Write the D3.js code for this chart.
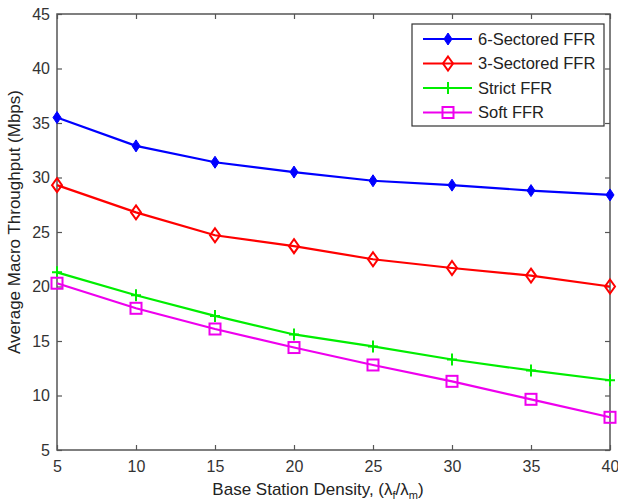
<!DOCTYPE html>
<html><head><meta charset="utf-8">
<script src="https://cdn.jsdelivr.net/npm/d3@7"></script>
<style>body{margin:0;background:#fff}svg{display:block}</style>
</head><body>
<svg id="c" width="618" height="502"></svg>
<script>
const density = [5, 10, 15, 20, 25, 30, 35, 40];
const sectored6 = [35.5, 32.9, 31.4, 30.5, 29.7, 29.3, 28.8, 28.4];
const sectored3 = [29.3, 26.8, 24.7, 23.7, 22.5, 21.7, 21.0, 20.0];
const strictFFR = [21.3, 19.2, 17.3, 15.6, 14.5, 13.3, 12.3, 11.4];
const softFFR = [20.3, 18.0, 16.1, 14.4, 12.8, 11.3, 9.65, 8.0];
const xTicks = [5, 10, 15, 20, 25, 30, 35, 40];
const yTicks = [5, 10, 15, 20, 25, 30, 35, 40, 45];
const seriesNames = ["6-Sectored FFR", "3-Sectored FFR", "Strict FFR", "Soft FFR"];

const series = [
  {name: seriesNames[0], values: sectored6, color: "#0000ff", marker: "fdiamond"},
  {name: seriesNames[1], values: sectored3, color: "#ff0000", marker: "odiamond"},
  {name: seriesNames[2], values: strictFFR, color: "#00ee00", marker: "plus"},
  {name: seriesNames[3], values: softFFR, color: "#ee00ee", marker: "square"}
];

const L = 57, R = 610, T = 14, B = 450;
const svg = d3.select("#c");
const x = d3.scaleLinear().domain([5, 40]).range([L, R]);
const y = d3.scaleLinear().domain([5, 45]).range([B, T]);
const font = "'Liberation Sans', Arial, sans-serif";
const axisColor = "#555";

svg.append("rect").attr("x", L).attr("y", T).attr("width", R - L).attr("height", B - T)
  .attr("fill", "none").attr("stroke", axisColor).attr("stroke-width", 1.5);

const xb = svg.append("g").attr("transform", `translate(0,${B})`)
  .call(d3.axisBottom(x).tickValues(xTicks).tickSizeInner(-5).tickSizeOuter(0).tickPadding(8));
const yl = svg.append("g").attr("transform", `translate(${L},0)`)
  .call(d3.axisLeft(y).tickValues(yTicks).tickSizeInner(-5).tickSizeOuter(0).tickPadding(7));
const xt = svg.append("g").attr("transform", `translate(0,${T})`)
  .call(d3.axisTop(x).tickValues(xTicks).tickSizeInner(-5).tickSizeOuter(0).tickFormat(""));
const yr = svg.append("g").attr("transform", `translate(${R},0)`)
  .call(d3.axisRight(y).tickValues(yTicks).tickSizeInner(-5).tickSizeOuter(0).tickFormat(""));
[xb, yl, xt, yr].forEach(g => {
  g.select(".domain").remove();
  g.selectAll("line").attr("stroke", axisColor).attr("stroke-width", 1.2);
  g.selectAll("text").attr("font-family", font).attr("font-size", 16).attr("fill", "#333");
});
xb.selectAll("text").attr("dy", "0.85em");

function drawMarker(g, type, cx, cy, color) {
  if (type === "fdiamond") {
    g.append("path").attr("d", `M${cx},${cy-6}L${cx+4},${cy}L${cx},${cy+6}L${cx-4},${cy}Z`)
      .attr("fill", color).attr("stroke", color).attr("stroke-width", 1);
  } else if (type === "odiamond") {
    g.append("path").attr("d", `M${cx},${cy-7}L${cx+5},${cy}L${cx},${cy+7}L${cx-5},${cy}Z`)
      .attr("fill", "none").attr("stroke", color).attr("stroke-width", 2);
  } else if (type === "plus") {
    g.append("path").attr("d", `M${cx-5},${cy}H${cx+5}M${cx},${cy-6}V${cy+6}`)
      .attr("stroke", color).attr("stroke-width", 2);
  } else if (type === "square") {
    g.append("rect").attr("x", cx - 5.5).attr("y", cy - 5.5).attr("width", 11).attr("height", 11)
      .attr("fill", "none").attr("stroke", color).attr("stroke-width", 2);
  }
}

const line = d3.line().x((d, i) => x(density[i])).y(d => y(d));
series.forEach(s => {
  const g = svg.append("g");
  g.append("path").attr("d", line(s.values)).attr("fill", "none")
    .attr("stroke", s.color).attr("stroke-width", 2.2);
  s.values.forEach((v, i) => drawMarker(g, s.marker, x(density[i]), y(v), s.color));
});

const lg = svg.append("g");
lg.append("rect").attr("x", 412).attr("y", 24).attr("width", 192).attr("height", 102)
  .attr("fill", "#fff").attr("stroke", "#333").attr("stroke-width", 1.2);
series.forEach((s, i) => {
  const yy = 39 + i * 24.5;
  lg.append("line").attr("x1", 423).attr("x2", 472).attr("y1", yy).attr("y2", yy)
    .attr("stroke", s.color).attr("stroke-width", 2.2);
  drawMarker(lg, s.marker, 448, yy, s.color);
  lg.append("text").attr("x", 478).attr("y", yy).attr("dy", "0.35em")
    .attr("font-family", font).attr("font-size", 16.5).attr("fill", "#222").text(s.name);
});

const xtitle = svg.append("text").attr("x", 318).attr("y", 495).attr("text-anchor", "middle")
  .attr("font-family", font).attr("font-size", 17).attr("fill", "#222");
xtitle.append("tspan").text("Base Station Density, (λ");
xtitle.append("tspan").attr("font-size", 11).attr("dy", 4).text("f");
xtitle.append("tspan").attr("dy", -4).text("/λ");
xtitle.append("tspan").attr("font-size", 11).attr("dy", 4).text("m");
xtitle.append("tspan").attr("dy", -4).text(")");

svg.append("text").attr("transform", "translate(20,222) rotate(-90)").attr("text-anchor", "middle")
  .attr("font-family", font).attr("font-size", 17).attr("fill", "#222")
  .text("Average Macro Throughput (Mbps)");
</script>
</body></html>
